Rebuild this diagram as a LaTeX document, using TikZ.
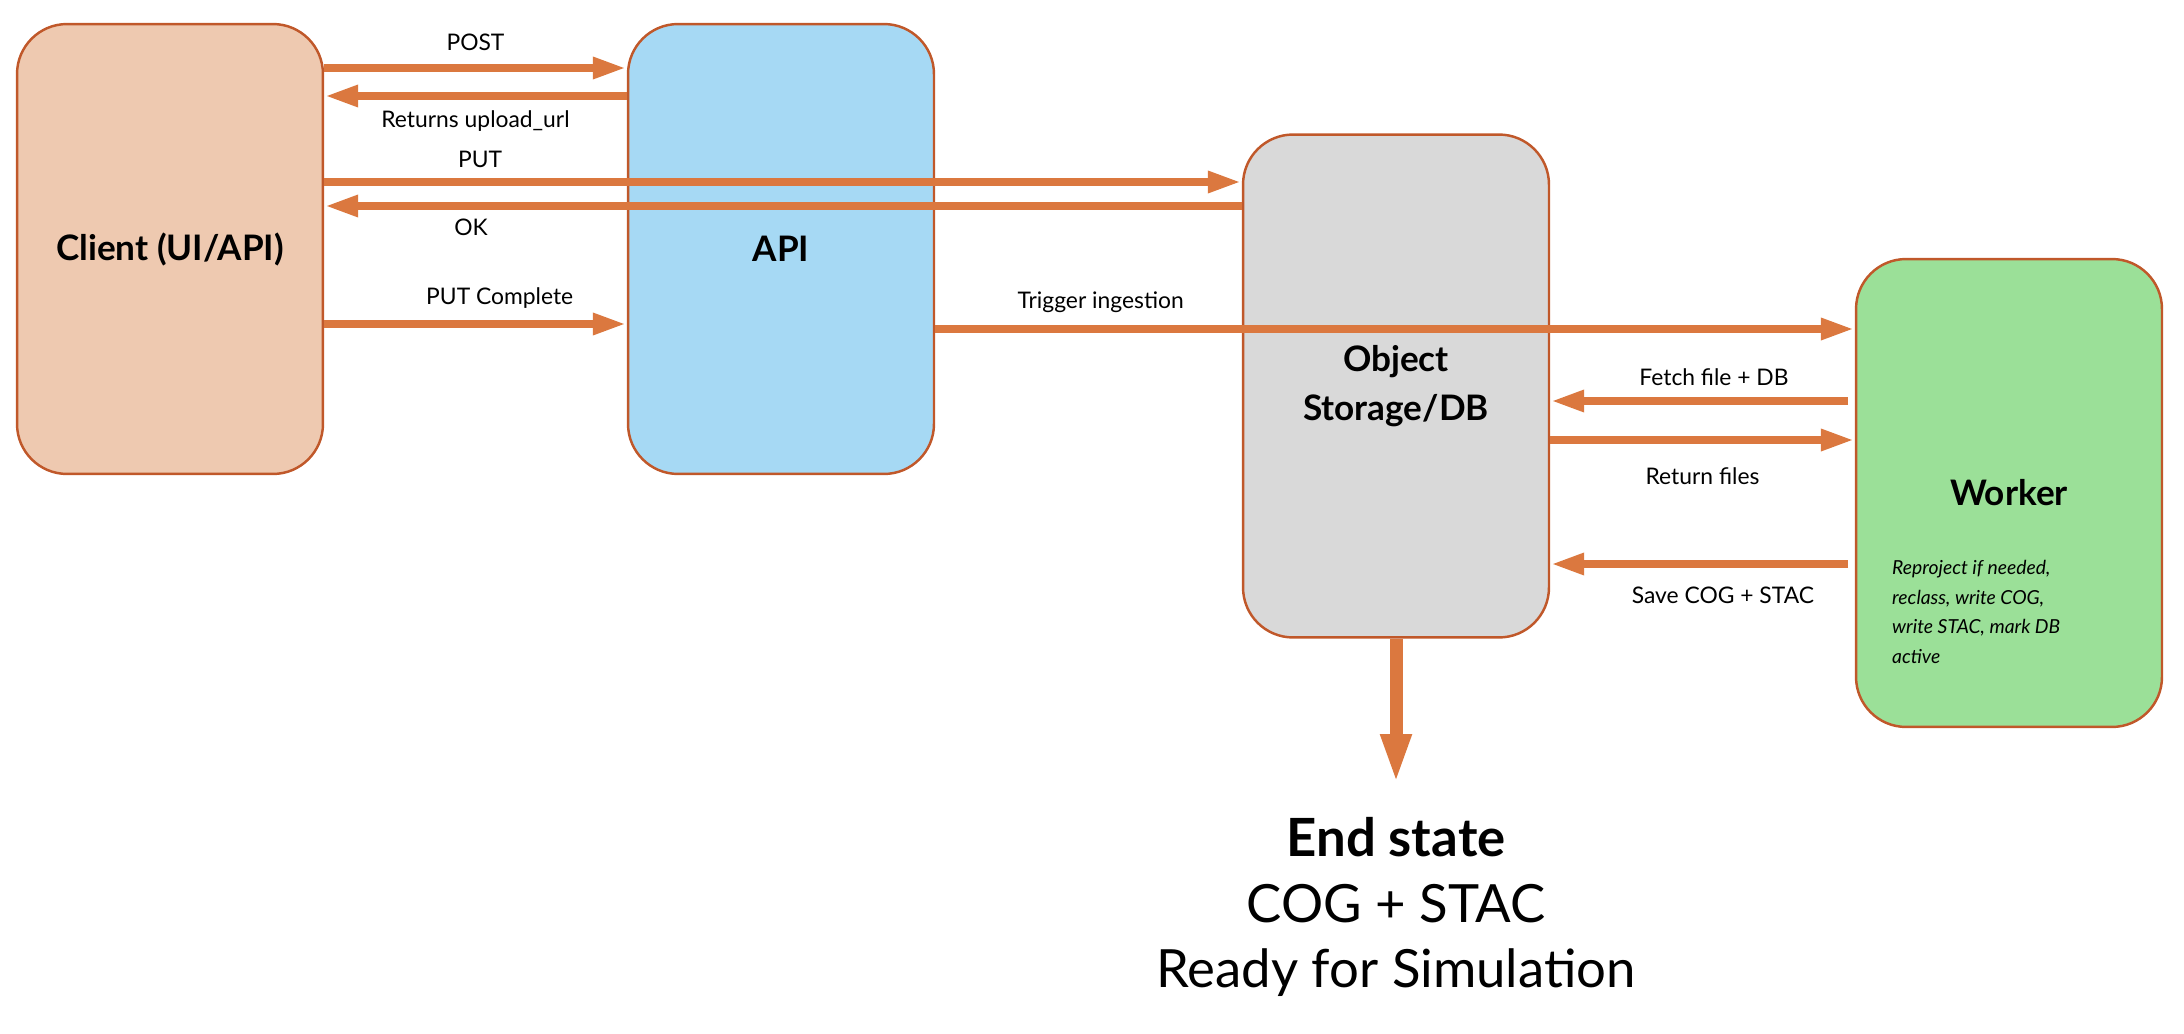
\documentclass[tikz,border=0pt]{standalone}
\usepackage{fontspec}
\setmainfont{Lato}
\usetikzlibrary{positioning,arrows.meta,calc}

\definecolor{clientfill}{HTML}{EEC9B0}
\definecolor{apifill}{HTML}{A6D9F4}
\definecolor{storefill}{HTML}{D9D9D9}
\definecolor{workerfill}{HTML}{9BE098}
\definecolor{boxline}{HTML}{C0582A}
\definecolor{flowcol}{HTML}{DB783F}

\tikzset{
  box/.style={draw=boxline, line width=1.4pt, rounded corners=1cm, minimum width=6.12cm,
    align=center, font=\bfseries\fontsize{20}{28}\selectfont},
  flow/.style={draw=flowcol, line width=5pt, -{Triangle[length=0.68cm,width=0.4cm]}},
  bigflow/.style={draw=flowcol, line width=7.4pt, -{Triangle[length=1cm,width=0.56cm]}},
  lbl/.style={font=\fontsize{13}{15}\selectfont},
  note/.style={align=left, font=\itshape\fontsize{11}{17}\selectfont},
}

\begin{document}
\begin{tikzpicture}[x=0.02cm, y=-0.02cm]
  \useasboundingbox (0,0) rectangle (2184,1034);

  % boxes
  \node[box, fill=clientfill, minimum height=9cm] (client) at (170,249) {Client (UI/API)};
  \node[box, fill=apifill, minimum height=9cm] (api) at (781,249) {API};
  \node[box, fill=storefill, minimum height=10.06cm] (store) at (1396,386) {Object\\Storage/DB};
  \node[box, fill=workerfill, minimum height=9.36cm] (worker) at (2009,493) {Worker};
  \node[note, anchor=west] (workernote) at (1886,612) {Reproject if needed,\\reclass, write COG,\\write STAC, mark DB\\active};

  % client <-> api / storage
  \draw[flow] (client.east |- 0,68) -- node[lbl, yshift=0.52cm] (lpost) {POST} (api.west |- 0,68);
  \draw[flow] (api.west |- 0,96) -- node[lbl, yshift=-0.5cm] (lreturns) {Returns upload\_url} (client.east |- 0,96);
  \draw[flow] (client.east |- 0,182) -- node[lbl, pos=0.17, yshift=0.45cm] (lput) {PUT} (store.west |- 0,182);
  \draw[flow] (store.west |- 0,206) -- node[lbl, pos=0.84, yshift=-0.42cm] (lok) {OK} (client.east |- 0,206);
  \draw[flow] (client.east |- 0,324) -- node[lbl, pos=0.58, yshift=0.52cm] (lcomplete) {PUT Complete} (api.west |- 0,324);

  % api -> worker
  \draw[flow] (api.east |- 0,329) -- node[lbl, pos=0.18, yshift=0.54cm] (ltrigger) {Trigger ingestion} (worker.west |- 0,329);

  % worker <-> storage
  \draw[flow] (1848,401) -- node[lbl, pos=0.45, yshift=0.48cm] (lfetch) {Fetch file + DB} (store.east |- 0,401);
  \draw[flow] (store.east |- 0,440) -- node[lbl, pos=0.5, yshift=-0.72cm] (lfiles) {Return files} (worker.west |- 0,440);
  \draw[flow] (1848,564) -- node[lbl, pos=0.42, yshift=-0.62cm] (lsave) {Save COG + STAC} (store.east |- 0,564);

  % end state
  \coordinate (endtip) at (1396,784);
  \draw[bigflow] (store.south) -- (endtip);
  \node[align=center, font=\fontsize{30}{37.5}\selectfont] (endstate) at (1396,907)
    {\textbf{End state}\\COG + STAC\\Ready for Simulation};
\end{tikzpicture}
\end{document}
